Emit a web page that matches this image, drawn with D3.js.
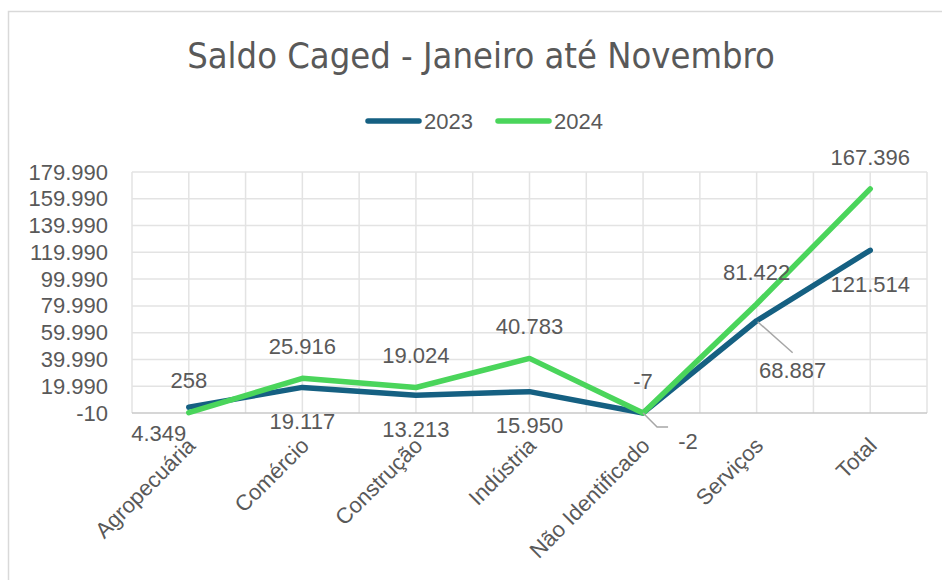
<!DOCTYPE html>
<html lang="pt">
<head>
    <meta charset="UTF-8">
    <title>Saldo Caged - Janeiro até Novembro</title>
    <script src="https://cdnjs.cloudflare.com/ajax/libs/d3/7.8.5/d3.min.js"></script>
    <style>
        body {
            margin: 0;
            background-color: white;
        }

        text {
            font-family: "Liberation Sans", Arial, sans-serif;
            fill: #595959;
        }

        .title {
            font-family: "Liberation Sans Narrow", "DejaVu Sans Condensed", "Liberation Sans", sans-serif;
            font-stretch: condensed;
        }

        .grid line {
            stroke: #e3e3e3;
            stroke-width: 1.5;
        }
    </style>
</head>
<body>
<div id="chart"></div>
<script>
    const categories = ['Agropecuária', 'Comércio', 'Construção', 'Indústria', 'Não Identificado', 'Serviços', 'Total'];
    const values2023 = [4349, 19117, 13213, 15950, -2, 68887, 121514];
    const values2024 = [258, 25916, 19024, 40783, -7, 81422, 167396];
    const yTicks = [-10, 19990, 39990, 59990, 79990, 99990, 119990, 139990, 159990, 179990];
    const seriesNames = ['2023', '2024'];

    const width = 942;
    const height = 580;
    const margin = {top: 172, right: 15, bottom: 167, left: 132};
    const colors = ['#156082', '#4ad55b'];

    const svg = d3.select('#chart')
        .append('svg')
        .attr('width', width)
        .attr('height', height);

    // outer chart frame (runs off the right/bottom edge like the screenshot)
    svg.append('rect')
        .attr('x', 8.5).attr('y', 11.5)
        .attr('width', width + 20).attr('height', height + 20)
        .attr('fill', 'none')
        .attr('stroke', '#d9d9d9')
        .attr('stroke-width', 1.5);

    svg.append('text')
        .attr('class', 'title')
        .attr('x', 481)
        .attr('y', 68)
        .attr('text-anchor', 'middle')
        .style('font-size', '36px')
        .text('Saldo Caged - Janeiro até Novembro');

    const x = d3.scaleBand()
        .domain(categories)
        .range([margin.left, width - margin.right]);

    const y = d3.scaleLinear()
        .domain([-10, 179990])
        .range([height - margin.bottom, margin.top]);

    const cx = d => x(d) + x.bandwidth() / 2;

    // gridlines: horizontal at ticks, vertical at band edges and centres
    const grid = svg.append('g').attr('class', 'grid');
    grid.selectAll('line.h')
        .data(yTicks.slice(1))
        .enter()
        .append('line')
        .attr('x1', margin.left).attr('x2', width - margin.right)
        .attr('y1', d => y(d)).attr('y2', d => y(d));

    const vLines = [];
    categories.forEach(c => {
        vLines.push(x(c));
        vLines.push(cx(c));
    });
    vLines.push(width - margin.right);
    grid.selectAll('line.v')
        .data(vLines)
        .enter()
        .append('line')
        .attr('x1', d => d).attr('x2', d => d)
        .attr('y1', margin.top).attr('y2', y(-10));

    // y axis labels (pt-BR style: dot as thousands separator, plain hyphen)
    const fmt = v => d3.format(',')(v).replace(/,/g, '.').replace('\u2212', '-');
    const yAxis = d3.axisLeft(y).tickValues(yTicks).tickFormat(fmt).tickSize(0).tickPadding(24);
    const yG = svg.append('g')
        .attr('transform', `translate(${margin.left},0)`)
        .call(yAxis);
    yG.select('.domain').remove();
    yG.selectAll('text')
        .style('font-size', '22px')
        .style('font-family', '"Liberation Sans", Arial, sans-serif')
        .attr('fill', '#595959');

    // x axis line + rotated labels
    svg.append('line')
        .attr('x1', margin.left).attr('x2', width - margin.right)
        .attr('y1', y(-10)).attr('y2', y(-10))
        .attr('stroke', '#c8c8c8')
        .attr('stroke-width', 1.5);

    svg.append('g')
        .selectAll('text')
        .data(categories)
        .enter()
        .append('text')
        .attr('transform', d => `translate(${cx(d) + 8},${y(-10) + 34}) rotate(-45)`)
        .attr('text-anchor', 'end')
        .style('font-size', '22px')
        .text(d => d);

    // lines
    const series = [values2023, values2024];
    const line = d3.line()
        .x((d, i) => cx(categories[i]))
        .y(d => y(d));

    series.forEach((vals, s) => {
        svg.append('path')
            .datum(vals)
            .attr('d', line)
            .attr('fill', 'none')
            .attr('stroke', colors[s])
            .attr('stroke-width', 5.5)
            .attr('stroke-linejoin', 'round')
            .attr('stroke-linecap', 'round');
    });

    // data labels: 2024 above, 2023 below, a few moved by hand like in Excel
    const nudge2023 = {
        'Agropecuária': [-30, -8],
        'Não Identificado': [45, -6],
        'Serviços': [36, 16]
    };
    const leaders2023 = ['Não Identificado', 'Serviços'];

    // leader lines
    svg.append('g')
        .selectAll('polyline')
        .data(leaders2023)
        .enter()
        .append('polyline')
        .attr('points', d => {
            const i = categories.indexOf(d);
            const px = cx(d), py = y(values2023[i]);
            const n = nudge2023[d];
            if (d === 'Não Identificado') {
                return [[px, py], [px + 14, py + 14], [px + n[0] - 20, py + 14]].join(' ');
            }
            return [[px + 1, py + 1], [px + n[0], py + n[1] + 16]].join(' ');
        })
        .attr('fill', 'none')
        .attr('stroke', '#a6a6a6')
        .attr('stroke-width', 1.5);

    svg.append('g')
        .selectAll('text')
        .data(values2024)
        .enter()
        .append('text')
        .attr('x', (d, i) => cx(categories[i]))
        .attr('y', d => y(d) - 32)
        .attr('dy', '0.35em')
        .attr('text-anchor', 'middle')
        .style('font-size', '22px')
        .text(fmt);

    svg.append('g')
        .selectAll('text')
        .data(values2023)
        .enter()
        .append('text')
        .attr('x', (d, i) => cx(categories[i]) + (nudge2023[categories[i]] || [0, 0])[0])
        .attr('y', (d, i) => y(d) + 34 + (nudge2023[categories[i]] || [0, 0])[1])
        .attr('dy', '0.35em')
        .attr('text-anchor', 'middle')
        .style('font-size', '22px')
        .text(fmt);

    // legend
    const legend = svg.append('g');
    const legendX = [366, 496];
    seriesNames.forEach((name, s) => {
        legend.append('line')
            .attr('x1', legendX[s] + 2).attr('x2', legendX[s] + 53)
            .attr('y1', 121).attr('y2', 121)
            .attr('stroke', colors[s])
            .attr('stroke-width', 5.5)
            .attr('stroke-linecap', 'round');
        legend.append('text')
            .attr('x', legendX[s] + 58)
            .attr('y', 121)
            .attr('dy', '0.35em')
            .style('font-size', '22px')
            .text(name);
    });
</script>
</body>
</html>
